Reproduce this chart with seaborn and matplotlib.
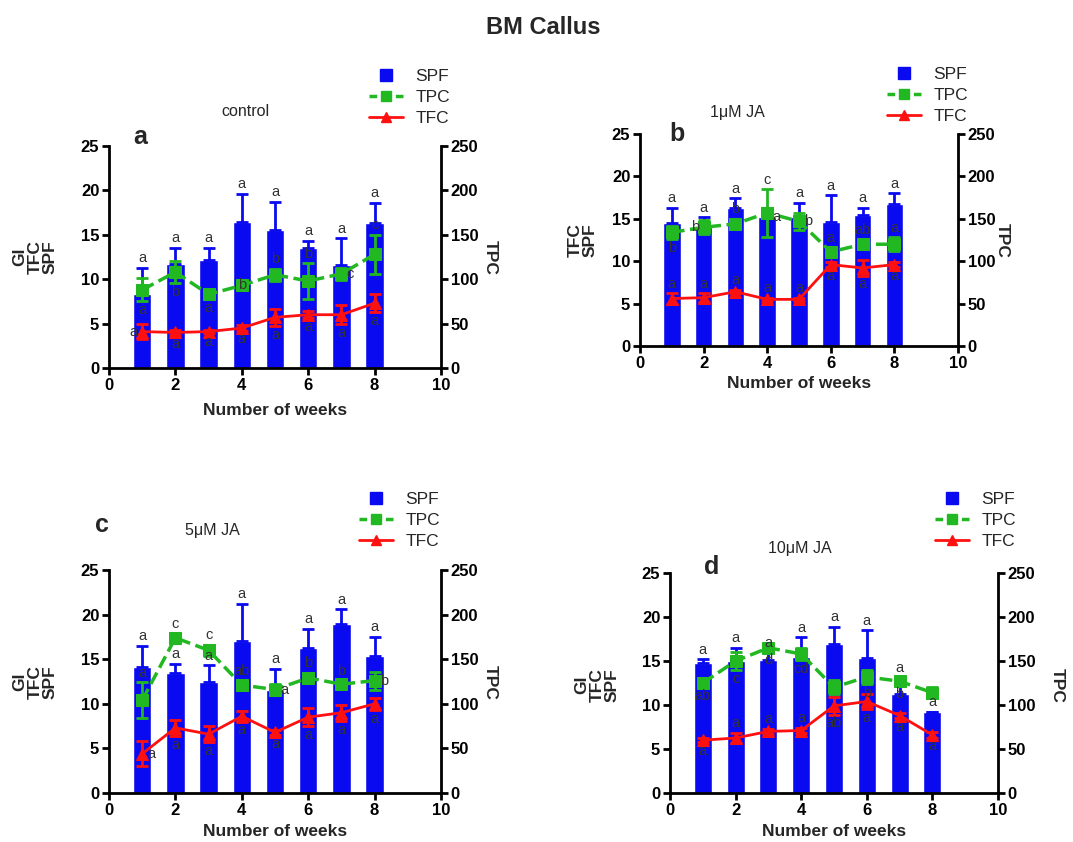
import numpy as np
import matplotlib
matplotlib.use("Agg")
import matplotlib.pyplot as plt
import seaborn as sns
from matplotlib.lines import Line2D

sns.set_style("white")
plt.rcParams['font.family'] = ['Liberation Sans', 'DejaVu Sans']

weeks = [1, 2, 3, 4, 5, 6, 7, 8]

# ---- panel a (control)
spf_a = [8.3, 11.7, 12.2, 16.4, 15.5, 13.5, 11.6, 16.3]
spf_a_err = [3.0, 1.8, 1.3, 3.2, 3.2, 0.8, 3.0, 2.3]
tpc_a = [88, 108, 83, 93, 105, 98, 106, 128]
tpc_a_err = [13, 12, 5, 4, 7, 20, 7, 22]
tfc_a = [4.1, 4.0, 4.1, 4.5, 5.7, 6.0, 6.0, 7.3]
tfc_a_err = [0.8, 0.3, 0.2, 0.3, 1.0, 0.4, 1.1, 1.0]
spf_a_let = ['a'] * 8
tpc_a_let = ['a', 'b', 'a', 'b', 'b', 'b', 'c', 'c']
tfc_a_let = ['a'] * 8

# ---- panel b (1 uM JA)
spf_b = [14.5, 14.0, 16.3, 15.2, 15.2, 14.6, 15.4, 16.7]
spf_b_err = [1.8, 1.2, 1.1, 1.1, 1.7, 3.2, 0.9, 1.3]
tpc_b = [134, 140, 144, 157, 147, 111, 120, 120]
tpc_b_err = [8, 8, 6, 28, 10, 5, 6, 8]
tfc_b = [5.6, 5.7, 6.4, 5.5, 5.5, 9.6, 9.2, 9.6]
tfc_b_err = [0.6, 0.5, 0.2, 0.2, 0.2, 0.3, 0.9, 0.3]
spf_b_let = ['a'] * 8
tpc_b_let = ['b', 'b', 'b', 'c', 'b', 'a', 'ab', 'a']
tfc_b_let = ['a'] * 8

# ---- panel c (5 uM JA)
spf_c = [14.1, 13.5, 12.5, 17.0, 11.6, 16.2, 18.9, 15.4]
spf_c_err = [2.4, 1.0, 1.8, 4.2, 2.3, 2.2, 1.7, 2.1]
tpc_c = [104, 174, 160, 121, 116, 129, 122, 126]
tpc_c_err = [20, 5, 6, 5, 6, 6, 4, 10]
tfc_c = [4.4, 7.3, 6.6, 8.6, 6.8, 8.5, 9.0, 10.0]
tfc_c_err = [1.4, 0.9, 0.9, 0.6, 0.3, 1.0, 0.9, 0.7]
spf_c_let = ['a'] * 8
tpc_c_let = ['a', 'c', 'c', 'ab', 'a', 'b', 'b', 'b']
tfc_c_let = ['a'] * 8

# ---- panel d (10 uM JA)
spf_d = [14.8, 15.0, 15.1, 15.5, 16.9, 15.3, 11.2, 9.2]
spf_d_err = [0.4, 1.5, 0.9, 2.2, 2.0, 3.2, 1.9, 0.0]
tpc_d = [125, 150, 165, 158, 120, 132, 127, 114]
tpc_d_err = [5, 10, 4, 7, 8, 8, 4, 6]
tfc_d = [6.0, 6.25, 7.0, 7.1, 9.9, 10.4, 8.8, 6.6]
tfc_d_err = [0.2, 0.6, 0.3, 0.3, 1.0, 0.9, 0.3, 0.3]
spf_d_let = ['a'] * 8
tpc_d_let = ['ab', 'c', 'd', 'cd', '', 'b', 'b', '']
tfc_d_let = ['a', 'a', 'a', 'a', 'ab', 'a', 'a', 'a']

x_ticks = [0, 2, 4, 6, 8, 10]
left_ticks = [0, 5, 10, 15, 20, 25]
right_ticks = [0, 50, 100, 150, 200, 250]

# placement codes for letters (style)
pos = {
    'a': (['u'] * 8, ['d', 'd', 'd', 'c', 'u', 'u', 'r', 'u'], ['l'] + ['d'] * 7),
    'b': (['u', 'u', 'u', 'r', 'u', 'u', 'u', 'u'], ['d', 'l', 'u', 'u', 'r', 'u', 'u', 'u'], ['u'] * 5 + ['d'] * 3),
    'c': (['u'] * 8, ['u', 'u', 'u', 'u', 'r', 'u', 'u', 'r'], ['r'] + ['d'] * 7),
    'd': (['u'] * 8, ['d', 'd', 'd', 'd', 'd', 'd', 'd', 'r'], ['d', 'u', 'u', 'u', 'd', 'd', 'd', 'd']),
}

W, H = 1073, 842
fig = plt.figure(figsize=(W / 100, H / 100), dpi=100)

BLUE = '#0a0af0'
GREEN = '#22b822'
RED = '#ff1010'
LETC = '#333333'


def px(x, y):
    return x / W, 1 - y / H


def place(ax, xs, vals, errs, lets, codes, off):
    for x, v, e, l, c in zip(xs, vals, errs, lets, codes):
        if not l:
            continue
        kw = dict(fontsize=10.5, color=LETC, zorder=10)
        if c == 'u':
            ax.text(x, v + e + off * 0.3, l, ha='center', va='bottom', **kw)
        elif c == 'd':
            ax.text(x, v - e - off * 0.2, l, ha='center', va='top', **kw)
        elif c == 'r':
            ax.text(x + 0.15, v, l, ha='left', va='center', **kw)
        elif c == 'l':
            ax.text(x - 0.15, v, l, ha='right', va='center', **kw)
        else:
            ax.text(x, v, l, ha='center', va='center', **kw)


def panel(rect, key, spf, spf_err, tpc, tpc_err, tfc, tfc_err, lets):
    x0, y0, x1, y1 = rect
    ax = fig.add_axes([x0 / W, 1 - y1 / H, (x1 - x0) / W, (y1 - y0) / H])
    ax.patch.set_alpha(0)
    sns.barplot(x=weeks, y=spf, native_scale=True, width=0.55, color=BLUE,
                saturation=1, errorbar=None, ax=ax, zorder=2)
    ax.errorbar(weeks, spf, yerr=[np.zeros(len(spf)), spf_err], fmt='none',
                ecolor=BLUE, elinewidth=2, capsize=4.5, capthick=2, zorder=3)
    sns.lineplot(x=weeks, y=tfc, ax=ax, color=RED, linewidth=2, marker='^',
                 markersize=8, markeredgecolor=RED, zorder=5)
    ax.errorbar(weeks, tfc, yerr=tfc_err, fmt='none', ecolor=RED,
                elinewidth=2, capsize=4, capthick=2, zorder=5)
    ax.set_xlim(0, 10)
    ax.set_ylim(0, 25)
    ax.set_xticks(x_ticks)
    ax.set_yticks(left_ticks)
    ax.set_xticklabels([str(t) for t in x_ticks])
    ax.set_xlabel('')
    ax.set_ylabel('')

    ax2 = ax.twinx()
    sns.lineplot(x=weeks, y=tpc, ax=ax2, color=GREEN, linewidth=2.5, linestyle='--',
                 marker='s', markersize=8, markeredgecolor=GREEN, zorder=4)
    ax2.errorbar(weeks, tpc, yerr=tpc_err, fmt='none', ecolor=GREEN,
                 elinewidth=2, capsize=4, capthick=2, zorder=4)
    ax2.set_ylim(0, 250)
    ax2.set_yticks(right_ticks)
    ax2.set_ylabel('')

    ps, pt, pf = pos[key]
    sl, tl, fl = lets
    place(ax2, weeks, [v * 10 for v in spf], [e * 10 for e in spf_err], sl, ps, 10.0)
    place(ax2, weeks, tpc, tpc_err, tl, pt, 10.0)
    place(ax2, weeks, [v * 10 for v in tfc], [e * 10 for e in tfc_err], fl, pf, 10.0)

    for a in (ax, ax2):
        a.spines['top'].set_visible(False)
        for s in ['left', 'right', 'bottom']:
            a.spines[s].set_linewidth(2)
            a.spines[s].set_color('black')
        a.tick_params(width=2, length=5, direction='out', labelsize=12, pad=2,
                      left=(a is ax), right=(a is ax2), bottom=True, colors='black')
        for t in a.get_xticklabels() + a.get_yticklabels():
            t.set_fontweight('bold')
    ax.spines['right'].set_visible(False)
    ax2.spines['left'].set_visible(False)
    ax2.spines['bottom'].set_visible(False)
    return ax, ax2


def legend(ax, x, y):
    handles = [
        Line2D([], [], color=BLUE, linestyle='none', marker='s', markersize=9, label='SPF'),
        Line2D([], [], color=GREEN, linestyle=(0, (2.2, 1.6)), linewidth=2.5, marker='s',
               markersize=7, label='TPC'),
        Line2D([], [], color=RED, linewidth=2, marker='^', markersize=7, label='TFC'),
    ]
    ax.legend(handles=handles, loc='upper left', bbox_to_anchor=px(x, y),
              bbox_transform=fig.transFigure, frameon=False, fontsize=12.5,
              handlelength=2.0, labelspacing=0.35, borderpad=0,
              handletextpad=0.7)


axa = panel((109, 146, 441, 368), 'a', spf_a, spf_a_err, tpc_a, tpc_a_err, tfc_a, tfc_a_err,
            (spf_a_let, tpc_a_let, tfc_a_let))
axb = panel((640, 134, 958, 346), 'b', spf_b, spf_b_err, tpc_b, tpc_b_err, tfc_b, tfc_b_err,
            (spf_b_let, tpc_b_let, tfc_b_let))
axc = panel((109, 570, 441, 793), 'c', spf_c, spf_c_err, tpc_c, tpc_c_err, tfc_c, tfc_c_err,
            (spf_c_let, tpc_c_let, tfc_c_let))
axd = panel((670, 573, 998, 793), 'd', spf_d, spf_d_err, tpc_d, tpc_d_err, tfc_d, tfc_d_err,
            (spf_d_let, tpc_d_let, tfc_d_let))

legend(axa[1], 360, 60)
legend(axb[1], 878, 58)
legend(axc[1], 350, 483)
legend(axd[1], 926, 483)


def ftext(x, y, s, **kw):
    fig.text(*px(x, y), s, **kw)


ftext(543, 28, 'BM Callus', ha='center', va='center', fontsize=17, fontweight='bold')

ftext(245, 112, 'control', ha='center', va='center', fontsize=11.5)
ftext(737, 112, '1\u03bcM JA', ha='center', va='center', fontsize=11.5)
ftext(212, 531, '5\u03bcM JA', ha='center', va='center', fontsize=11.5)
ftext(800, 548, '10\u03bcM JA', ha='center', va='center', fontsize=11.5)

ftext(140, 137, 'a', ha='center', va='center', fontsize=18, fontweight='bold')
ftext(677, 134, 'b', ha='center', va='center', fontsize=18, fontweight='bold')
ftext(102, 525, 'c', ha='center', va='center', fontsize=18, fontweight='bold')
ftext(712, 567, 'd', ha='center', va='center', fontsize=18, fontweight='bold')

ylab_kw = dict(ha='center', va='center', fontsize=12.5, fontweight='bold', rotation=90, linespacing=1.0)
ftext(35, 257, 'GI\nTFC\nSPF', **ylab_kw)
ftext(583, 240, 'TFC\nSPF', **ylab_kw)
ftext(35, 682, 'GI\nTFC\nSPF', **ylab_kw)
ftext(597, 685, 'GI\nTFC\nSPF', **ylab_kw)

tpc_kw = dict(ha='center', va='center', fontsize=12.5, fontweight='bold', rotation=270)
ftext(490, 257, 'TPC', **tpc_kw)
ftext(1002, 240, 'TPC', **tpc_kw)
ftext(490, 682, 'TPC', **tpc_kw)
ftext(1057, 685, 'TPC', **tpc_kw)

xl_kw = dict(ha='center', va='center', fontsize=12.5, fontweight='bold')
ftext(275, 410, 'Number of weeks', **xl_kw)
ftext(799, 384, 'Number of weeks', **xl_kw)
ftext(275, 832, 'Number of weeks', **xl_kw)
ftext(834, 832, 'Number of weeks', **xl_kw)

fig.savefig('out.png', dpi=100)
